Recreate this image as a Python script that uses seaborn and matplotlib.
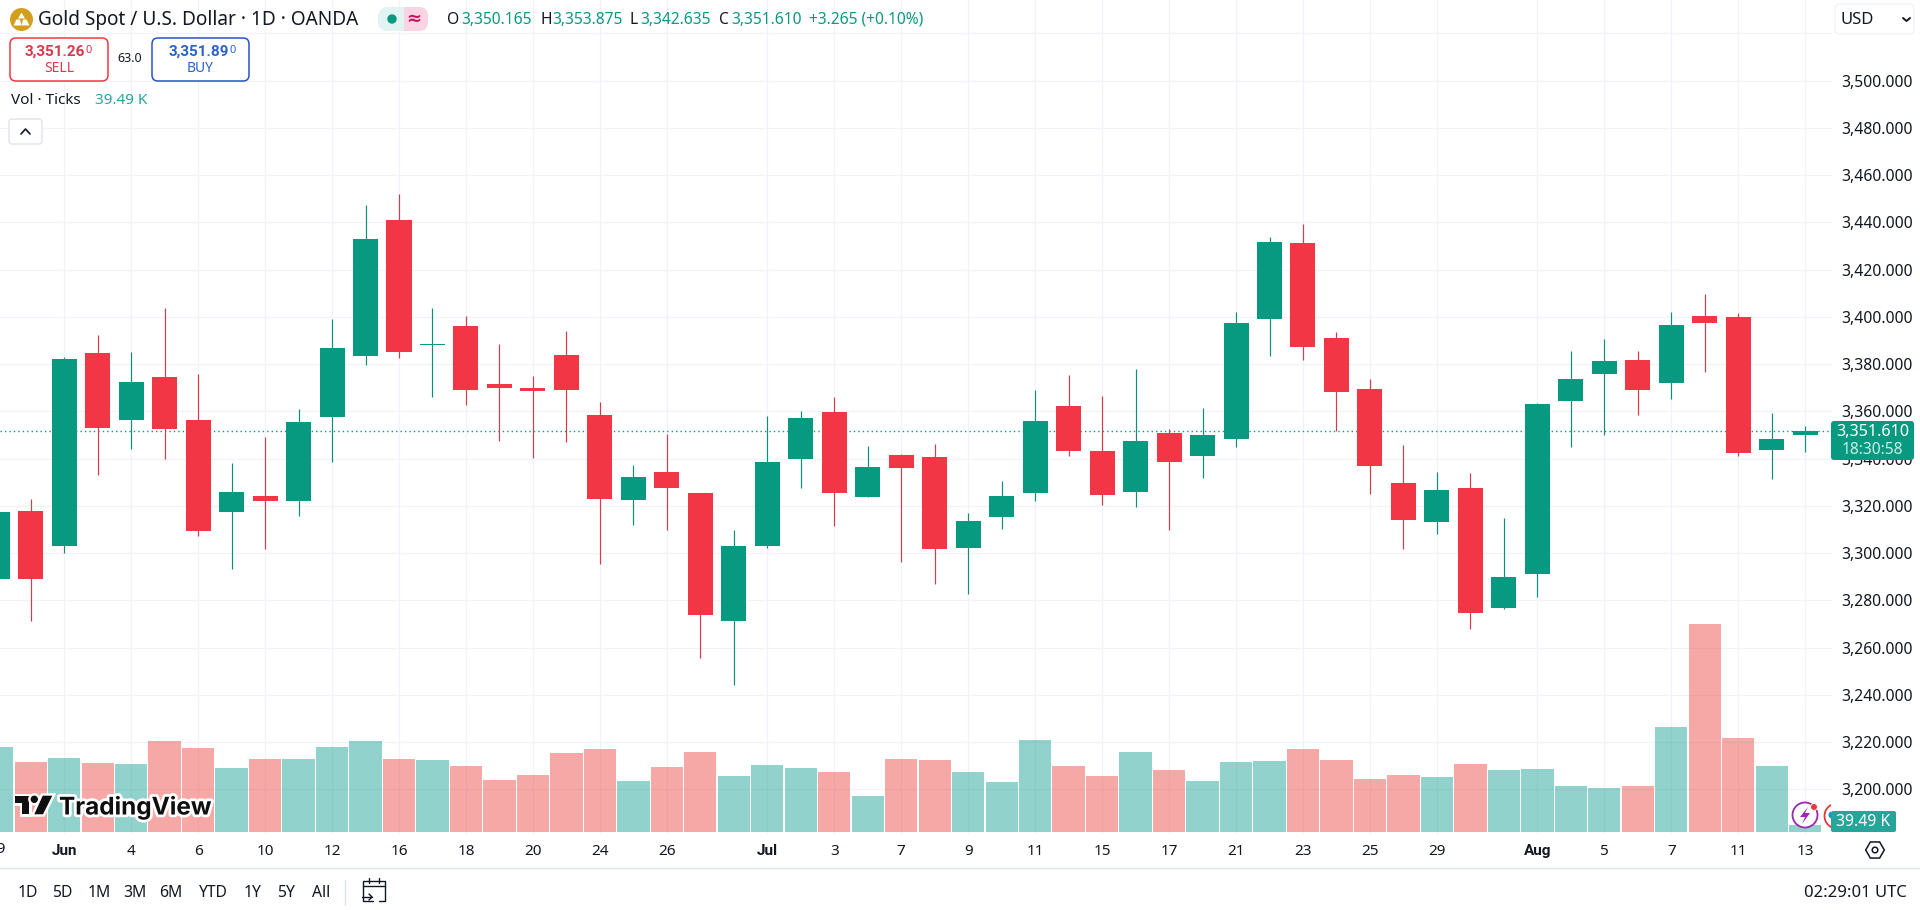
import numpy as np
import pandas as pd
import matplotlib
matplotlib.use("Agg")
import matplotlib.pyplot as plt
import matplotlib.patheffects as pe
from matplotlib.patches import Circle, FancyBboxPatch, Polygon, Rectangle, RegularPolygon
import seaborn as sns

# ---------------- data ----------------
bar_index = list(range(-1, 54))
opens = [3289.2, 3317.8, 3303.1, 3384.7, 3356.5, 3374.5, 3356.3, 3317.5, 3324.2, 3322.2, 3357.7,
         3383.6, 3441.0, 3388.2, 3396.1, 3371.6, 3369.9, 3383.8, 3358.4, 3322.6, 3334.3, 3325.4,
         3271.4, 3303.1, 3340.0, 3359.7, 3323.9, 3341.5, 3340.7, 3302.3, 3315.4, 3325.6, 3362.3,
         3343.2, 3326.0, 3350.8, 3341.2, 3348.4, 3399.2, 3431.3, 3391.0, 3369.5, 3329.7, 3313.3,
         3327.5, 3276.9, 3291.3, 3364.5, 3375.9, 3381.7, 3372.1, 3400.4, 3399.9, 3343.8, 3350.165]
closes = [3317.4, 3289.2, 3382.2, 3353.1, 3372.4, 3352.7, 3309.5, 3325.9, 3322.2, 3355.5, 3386.8,
          3432.9, 3385.3, 3388.6, 3369.2, 3370.0, 3368.7, 3369.2, 3323.0, 3332.2, 3327.7, 3273.9,
          3303.0, 3338.6, 3357.2, 3325.6, 3336.4, 3336.2, 3301.6, 3313.6, 3324.2, 3355.9, 3343.4,
          3324.7, 3347.4, 3338.7, 3350.0, 3397.4, 3431.7, 3387.4, 3368.3, 3337.0, 3314.1, 3326.7,
          3274.8, 3289.9, 3363.1, 3373.7, 3381.3, 3369.2, 3396.5, 3397.5, 3342.5, 3348.3, 3351.61]
highs = [3322.0, 3322.9, 3382.9, 3392.3, 3385.0, 3403.7, 3375.8, 3338.0, 3349.1, 3360.8, 3399.1,
         3447.3, 3452.0, 3403.7, 3400.4, 3388.5, 3375.0, 3394.1, 3364.0, 3337.3, 3350.4, 3325.4,
         3309.8, 3358.0, 3360.1, 3366.1, 3345.3, 3342.1, 3346.2, 3316.8, 3330.5, 3369.0, 3375.4,
         3366.5, 3377.9, 3352.5, 3361.4, 3402.0, 3433.8, 3439.3, 3393.6, 3373.7, 3345.7, 3334.3,
         3333.8, 3314.9, 3363.4, 3385.5, 3390.6, 3385.5, 3402.0, 3409.7, 3401.6, 3359.3, 3353.875]
lows = [3285.0, 3271.2, 3300.2, 3333.2, 3344.2, 3339.7, 3307.4, 3293.4, 3301.7, 3315.8, 3338.7,
        3379.8, 3382.7, 3366.2, 3362.8, 3347.6, 3340.4, 3347.2, 3295.5, 3312.0, 3309.9, 3255.7,
        3244.3, 3302.3, 3327.7, 3311.6, 3323.9, 3296.4, 3287.0, 3282.8, 3310.3, 3322.2, 3341.2,
        3320.5, 3319.6, 3309.9, 3331.9, 3345.0, 3383.6, 3381.9, 3351.8, 3325.0, 3301.9, 3308.2,
        3268.0, 3276.5, 3281.4, 3345.0, 3350.1, 3358.6, 3365.4, 3376.8, 3341.2, 3331.4, 3342.635]
volumes_k = [501, 413, 436, 407, 401, 537, 496, 377, 430, 430, 501, 537, 430, 424, 389, 306, 336,
             466, 490, 300, 383, 472, 330, 395, 377, 353, 211, 430, 424, 353, 294, 543, 389, 330,
             472, 365, 300, 413, 419, 490, 424, 312, 336, 324, 401, 365, 371, 271, 259, 271, 620,
             1230, 555, 389, 39.49]

tick_bars = [1, 3, 5, 7, 9, 11, 13, 15, 17, 19, 22, 24, 26, 28, 30, 32, 34, 36, 38, 40, 42, 45, 47, 49, 51, 53]
tick_labels = ["Jun", "4", "6", "10", "12", "16", "18", "20", "24", "26", "Jul", "3", "7", "9", "11",
               "15", "17", "21", "23", "25", "29", "Aug", "5", "7", "11", "13"]
month_labels = ["Jun", "Jul", "Aug"]
price_ticks = list(range(3200, 3520, 20))
grid_only_prices = [3520]
last_price = 3351.61

UP, DOWN = "#089981", "#F23645"
UP_WICK, DOWN_WICK = "#0B8F7A", "#D83A4C"
VOL_UP, VOL_DOWN = "#26A69A", "#EF5350"
GRID = "#F0F3FA"
INK = "#131722"

df = pd.DataFrame({"bar": bar_index, "open": opens, "close": closes, "high": highs, "low": lows,
                   "volume": volumes_k})
df["dir"] = np.where(df["close"] >= df["open"], "up", "down")
df["body"] = (df["close"] - df["open"]).abs()
df["bottom"] = df[["open", "close"]].min(axis=1)

# ---------------- figure ----------------
sns.set_theme(style="white", rc={"axes.grid": False})
plt.rcParams["font.family"] = ["Noto Sans", "DejaVu Sans"]
W, H = 1920, 910
fig = plt.figure(figsize=(W / 100, H / 100), dpi=100, facecolor="white")
pos = [0, 1 - 834 / H, 1832 / W, 834 / H]

axv = fig.add_axes(pos, zorder=1)
ax = fig.add_axes(pos, zorder=2)
ax.patch.set_alpha(0)

xlim = (-0.917, 53.8)
ylim = (3181.1, 3534.1)

# grid lives under the volume bars
axv.set_xlim(xlim)
for b in [-1] + tick_bars:
    axv.axvline(b, color=GRID, lw=0.9, zorder=0)
axv_g = axv.twinx()
axv_g.set_ylim(ylim)
axv_g.set_zorder(0)
for p in price_ticks + grid_only_prices:
    axv_g.axhline(p, color=GRID, lw=0.9, zorder=0)
axv_g.set_yticks([])
axv_g.set_xlim(xlim)
for s in axv_g.spines.values():
    s.set_visible(False)
axv.set_zorder(1)
axv.patch.set_alpha(0)
axv_g.patch.set_facecolor("white")

# volume pane
sns.barplot(data=df, x="bar", y="volume", hue="dir", hue_order=["up", "down"], dodge=False,
            palette={"up": VOL_UP, "down": VOL_DOWN}, native_scale=True, width=0.965, alpha=0.5,
            saturation=1, legend=False, errorbar=None, linewidth=0, ax=axv)
axv.set_xlim(xlim)
axv.set_ylim(-2 * 5.92, 832 * 5.92)
axv.set_xticks([]); axv.set_yticks([])
axv.set_xlabel(""); axv.set_ylabel("")
for s in axv.spines.values():
    s.set_visible(False)

# candles
ax.vlines(df.loc[df.dir == "up", "bar"], df.loc[df.dir == "up", "low"], df.loc[df.dir == "up", "high"],
          color=UP_WICK, lw=0.85, zorder=2)
ax.vlines(df.loc[df.dir == "down", "bar"], df.loc[df.dir == "down", "low"], df.loc[df.dir == "down", "high"],
          color=DOWN_WICK, lw=0.85, zorder=2)
for key, col in (("up", UP), ("down", DOWN)):
    sub = df[df.dir == key]
    sns.barplot(data=sub, x="bar", y="body", bottom=sub["bottom"].values, color=col, saturation=1,
                native_scale=True, width=0.747, errorbar=None, linewidth=0, ax=ax, zorder=3)
ax.axhline(last_price, color=UP, lw=1.0, ls=(0, (1, 2.2)), zorder=2.5)

ax.set_xlim(xlim)
ax.set_ylim(ylim)
ax.set_xlabel(""); ax.set_ylabel("")
ax.set_xticks(tick_bars)
ax.set_xticklabels(tick_labels, fontsize=11, color=INK)
for lab in ax.get_xticklabels():
    if lab.get_text() in month_labels:
        lab.set_fontweight("bold")
        lab.set_family("Roboto")
ax.yaxis.tick_right()
ax.set_yticks(price_ticks)
ax.set_yticklabels([f"{p:,.3f}" for p in price_ticks], fontsize=11.3, color=INK, ha="left")
ax.tick_params(axis="x", length=0, pad=7)
ax.tick_params(axis="y", length=0, pad=7)
for s in ax.spines.values():
    s.set_visible(False)
ax.text(-1, -0.0186, "29", transform=ax.get_xaxis_transform(), ha="center", va="center", fontsize=11, color=INK)

# ---------------- pixel-space chrome ----------------
ov = fig.add_axes([0, 0, 1, 1], zorder=5)
ov.set_xlim(0, W); ov.set_ylim(H, 0)
ov.axis("off"); ov.patch.set_alpha(0)


def T(x, y, s, size=11, color=INK, ha="left", weight="normal", **kw):
    if weight == "bold" and "family" not in kw:
        kw["family"] = "Roboto"
    return ov.text(x, y + 1, s, fontsize=size, color=color, ha=ha, va="center", fontweight=weight, **kw)


def box(x0, y0, x1, y1, r=4, fc="white", ec="none", lw=1.0, **kw):
    p = FancyBboxPatch((x0 + r, y0 + r), x1 - x0 - 2 * r, y1 - y0 - 2 * r,
                       boxstyle=f"round,pad={r},rounding_size={r}", fc=fc, ec=ec, lw=lw, **kw)
    ov.add_patch(p)
    return p


# header
ov.add_patch(Circle((21.5, 19.5), 11.5, fc="#D39E1E", ec="none"))
for tri in ([(21.5, 12.5), (25, 18.5), (18, 18.5)], [(16.5, 19.5), (20, 19.5), (21.5, 25.5), (13.5, 25.5)],
            [(23, 19.5), (26.5, 19.5), (29.5, 25.5), (21.5, 25.5)]):
    ov.add_patch(Polygon(tri, fc="white", ec="none"))
T(38, 19.5, "Gold Spot / U.S. Dollar · 1D · OANDA", size=13.7)
box(378, 7, 428, 31, r=10, fc="#E1F4F1")
box(404, 7, 428, 31, r=9, fc="#FBD3E2")
ov.add_patch(Rectangle((404, 7), 8, 24, fc="#FBD3E2", ec="none"))
ov.add_patch(Circle((392, 19), 4.7, fc=UP, ec="none"))
T(414, 18, "≈", size=13, color="#C2185B", ha="center", weight="bold", family="DejaVu Sans")

OHLC_GREEN = "#089981"
for x, s, c in ((447, "O", INK), (461, "3,350.165", OHLC_GREEN), (540, "H", INK), (552, "3,353.875", OHLC_GREEN),
                (629.5, "L", INK), (640, "3,342.635", OHLC_GREEN), (719, "C", INK), (731, "3,351.610", OHLC_GREEN),
                (809, "+3.265 (+0.10%)", OHLC_GREEN)):
    T(x, 18.5, s, size=11.2, color=c)

# sell / buy
SELLC, BUYC = "#D9394A", "#2962C8"
box(10, 38, 108, 81, r=6, ec=DOWN, lw=1.1)
T(85, 50.5, "3,351.26", size=11, color=SELLC, ha="right", weight="bold")
T(86, 49.5, "0", size=8, color=SELLC)
T(59, 68, "SELL", size=10, color=SELLC, ha="center")
T(130, 58, "63.0", size=9, ha="center")
box(152, 38, 249, 81, r=6, ec="#2952C8", lw=1.1)
T(229, 50.5, "3,351.89", size=11, color=BUYC, ha="right", weight="bold")
T(230, 49.5, "0", size=8, color=BUYC)
T(200, 68, "BUY", size=10, color=BUYC, ha="center")

T(11, 100, "Vol · Ticks", size=11)
T(95, 100, "39.49 K", size=11, color="#26A69A")
box(9, 119, 42, 144, r=3, ec="#E0E3EB", lw=1)
ov.plot([21, 25.5, 30], [134, 129, 134], color=INK, lw=1.2)

# USD selector
box(1835, 4, 1914, 34, r=5, ec="#F0F3FA", lw=1)
T(1840, 19, "USD", size=12)
ov.plot([1903, 1906.5, 1910], [18, 21, 18], color=INK, lw=1.4)

# TradingView logo
halo = [pe.withStroke(linewidth=4, foreground="white")]
for patch in (Polygon([(15, 795.7), (29.3, 795.7), (29.3, 814.3), (21.7, 814.3), (21.7, 802.7), (15, 802.7)], fc="#0F0F0F", ec="none"),
              Circle((34.3, 799.3), 3.7, fc="#0F0F0F", ec="none"),
              Polygon([(42.7, 795.7), (52.3, 795.7), (43, 814.3), (34.3, 814.3)], fc="#0F0F0F", ec="none")):
    ov.add_patch(patch)
    patch.set_path_effects([pe.withStroke(linewidth=3.5, foreground="white")])
T(59, 806, "TradingView", size=17.5, color="#0F0F0F", weight="bold", family="Inter", path_effects=halo)

# price and volume tags
box(1831, 421, 1914, 460, r=3, fc=UP)
T(1872.5, 430.5, "3,351.610", size=11.6, color="white", ha="center")
T(1872.5, 449.5, "18:30:58", size=11.2, color="#C9EFE8", ha="center")

ov.add_patch(Circle((1805, 815), 12.5, fc="white", ec="#9C27B0", lw=1.3))
ov.add_patch(Polygon([(1808, 807), (1800, 817), (1805, 817), (1802, 824), (1810, 813), (1805, 813)], fc="#9C27B0", ec="none"))
ov.add_patch(Circle((1814, 807), 3.4, fc="#E53935", ec="white", lw=0.6))
clip = Rectangle((1815, 795), 16, 40, transform=ov.transData)
for art in (Circle((1837, 816), 12.5, fc="white", ec="#E53935", lw=1.3),
            Circle((1832, 815), 3.5, fc="#1E88E5", ec="none")):
    ov.add_patch(art)
    art.set_clip_path(clip)
box(1831, 811, 1896, 832, r=2, fc="#26A69A")
T(1863.5, 820.5, "39.49 K", size=11.3, color="white", ha="center", weight="medium")

# time-axis rule and settings icon
ov.plot([0, W], [868, 868], color="#E0E3EB", lw=1)
ov.add_patch(RegularPolygon((1875, 850), 6, radius=9.3, orientation=np.pi / 6, fc="none", ec=INK, lw=1.1))
ov.add_patch(Circle((1875, 850), 2.8, fc="none", ec=INK, lw=1.1))

# range bar
for x, s in ((28, "1D"), (62, "5D"), (99, "1M"), (135, "3M"), (171, "6M"), (213, "YTD"), (253, "1Y"), (286, "5Y"), (321, "All")):
    T(x, 892, s, size=11.3, ha="center")
ov.plot([345, 345], [880, 905], color="#E0E3EB", lw=1)
ov.plot([373, 363, 363, 385, 385, 379], [901, 901, 881, 881, 901, 901], color=INK, lw=1.0)
ov.plot([363, 385], [886, 886], color=INK, lw=1.0)
ov.plot([369, 369], [878, 883], color=INK, lw=1.0)
ov.plot([379, 379], [878, 883], color=INK, lw=1.0)
ov.plot([362, 372], [897, 897], color=INK, lw=1.0)
ov.plot([369, 372, 369], [894, 897, 900], color=INK, lw=1.0)
T(1907, 892, "02:29:01 UTC", size=12, ha="right")

fig.savefig("out.png", dpi=100, facecolor="white")
